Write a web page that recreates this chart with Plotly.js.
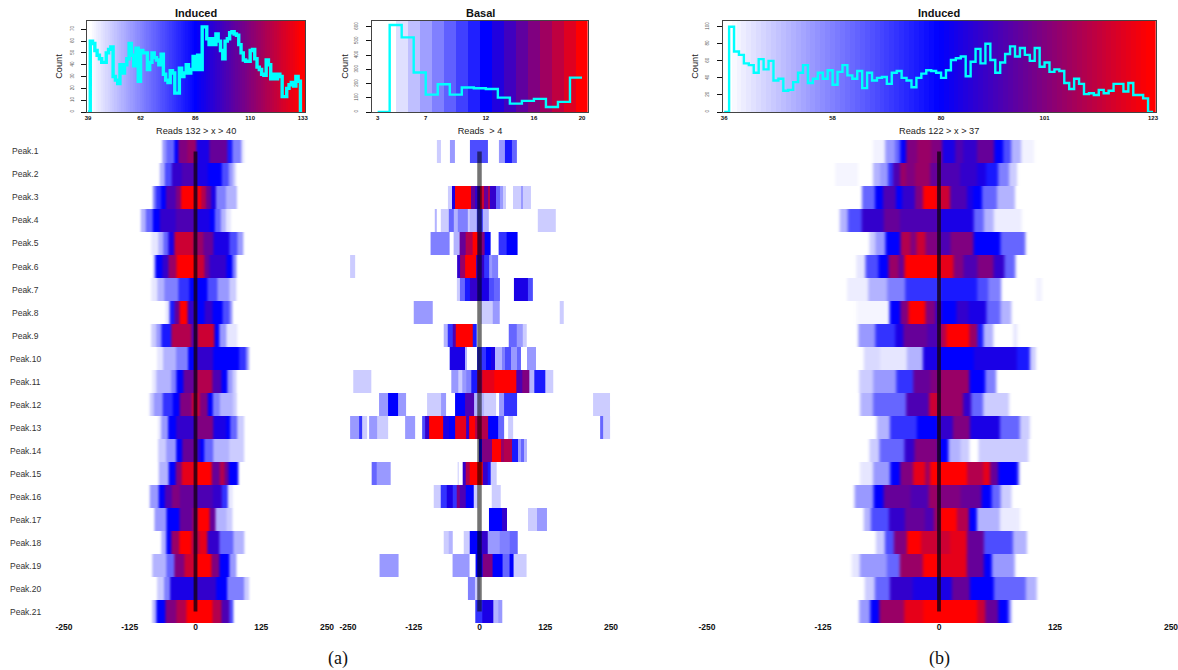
<!DOCTYPE html>
<html>
<head>
<meta charset="utf-8">
<script src="https://cdn.plot.ly/plotly-3.0.1.min.js"></script>
<style>
	html, body { margin: 0; padding: 0; background: #fff; overflow: hidden; }
	/* the source is a scaled bitmap, rows bleed sideways a little */
	.x4y4 .heatmaplayer { filter: url(#softA); }
	.x6y6 .heatmaplayer { filter: url(#softC); }
	.x5y5 .heatmaplayer { filter: url(#softB); }
</style>
</head>
<body>
<svg width="0" height="0" style="position:absolute">
	<filter id="softA" x="-5%" y="-5%" width="110%" height="110%" color-interpolation-filters="sRGB"><feGaussianBlur stdDeviation="1.1 0.4"/></filter>
	<filter id="softB" x="-5%" y="-5%" width="110%" height="110%" color-interpolation-filters="sRGB"><feGaussianBlur stdDeviation="0.4 0.4"/></filter>
	<filter id="softC" x="-5%" y="-5%" width="110%" height="110%" color-interpolation-filters="sRGB"><feGaussianBlur stdDeviation="1.8 0.4"/></filter>
</svg>
<div id="chart" style="width:1178px;height:670px;overflow:hidden"></div>
<script>
// histograms ==================================================================
const readsA = [39,40,41,42,43,44,45,46,47,48,49,50,51,52,53,54,55,56,57,58,59,60,61,62,63,64,65,66,67,68,69,70,71,72,73,74,75,76,77,78,79,80,81,82,83,84,85,86,87,88,89,90,91,92,93,94,95,96,97,98,99,100,101,102,103,104,105,106,107,108,109,110,111,112,113,114,115,116,117,118,119,120,121,122,123,124,125,126,127,128,129,130,131,132];
const countsA = [0,60,58,52,48,45,42,42,50,53,55,30,27,24,40,33,40,45,58,48,39,54,26,52,50,50,36,42,50,46,44,40,49,32,27,25,35,33,16,16,37,30,33,40,33,36,47,36,48,36,72,72,62,57,62,57,66,60,52,45,60,62,67,68,66,65,57,50,44,43,43,52,53,45,38,36,32,31,44,40,28,32,28,32,30,13,13,20,23,25,22,30,26,0];

const readsB = [3,4,5,6,7,8,9,10,11,12,13,14,15,16,17,18,19,20];
const countsB = [0,612,525,278,122,195,122,172,167,162,101,59,78,92,35,71,242,242];

const readsC = [36,37,38,39,40,41,42,43,44,45,46,47,48,49,50,51,52,53,54,55,56,57,58,59,60,61,62,63,64,65,66,67,68,69,70,71,72,73,74,75,76,77,78,79,80,81,82,83,84,85,86,87,88,89,90,91,92,93,94,95,96,97,98,99,100,101,102,103,104,105,106,107,108,109,110,111,112,113,114,115,116,117,118,119,120,121,122,123];
const countsC = [0,100,71,67,57,55,46,62,50,60,37,39,25,26,35,46,55,34,39,46,39,49,32,47,55,43,39,48,28,46,37,40,41,33,46,48,40,37,29,40,45,49,48,46,40,49,61,63,65,42,59,74,57,80,61,46,58,68,77,65,75,67,60,75,53,58,47,50,48,34,27,39,33,21,22,20,26,22,25,33,33,24,34,20,20,16,0,0];

const ticksA = [39, 62, 86, 110, 133];
const ticksB = [3, 7, 12, 16, 20];
const ticksC = [36, 58, 80, 101, 123];
const countTicksA = [0, 10, 20, 30, 40, 50, 60, 70];
const countTicksB = [0, 100, 200, 300, 400, 500, 600];
const countTicksC = [0, 20, 40, 60, 80, 100];

// heatmap rows ================================================================
// each row: edge, level, edge, level, ... edge. position in bp, level 0 white, 10 blue, 20 red
const peakNames = ["Peak.1","Peak.2","Peak.3","Peak.4","Peak.5","Peak.6","Peak.7","Peak.8","Peak.9","Peak.10","Peak.11","Peak.12","Peak.13","Peak.14","Peak.15","Peak.16","Peak.17","Peak.18","Peak.19","Peak.20","Peak.21"];
const positionTicks = [-250, -125, 0, 125, 250];

const rowsA = [
	[-63,4,-56,6,-40,10,-32,15,-15,16,1,11,27,14,60,9,71,5,87,1,93],
	[-68,3,-59,7,-46,12,-27,13,1,11,23,10,49,7,64,4,71,2,77],
	[-81,5,-75,8,-66,10,-56,13,-37,15,-27,20,-2,18,4,20,11,17,20,14,30,11,39,5,58,3,79],
	[-104,3,-94,6,-81,10,-68,12,-37,13,1,11,27,10,36,6,49,3,58,1,68],
	[-84,1,-71,3,-62,6,-52,11,-40,18,-5,16,14,14,33,11,64,7,80,4,90],
	[-80,3,-76,10,-62,12,-52,16,-37,20,1,18,17,14,27,12,58,10,71,5,78],
	[-84,1,-73,3,-59,5,-33,8,-11,10,23,7,42,4,64,2,77],
	[-57,1,-49,9,-40,14,-30,20,-15,12,1,10,17,12,33,10,52,7,64,4,71],
	[-84,2,-75,4,-65,9,-46,17,-8,13,4,18,36,10,46,4,58,1,80],
	[-73,1,-62,3,-37,5,-15,10,1,12,33,10,83,8,96,4,101],
	[-82,1,-75,3,-46,5,-37,10,-24,14,1,17,33,13,49,10,61,4,71,2,77],
	[-87,2,-80,4,-62,8,-43,10,-30,15,-8,18,8,15,23,10,33,5,46,3,71,2,78],
	[-71,1,-65,4,-52,10,-37,12,1,15,33,11,58,10,65,6,80,2,93],
	[-71,2,-56,4,-37,10,-25,14,1,12,8,10,17,6,33,3,64,2,93],
	[-70,3,-51,10,-37,15,-27,19,1,20,30,14,46,17,55,14,64,10,80,6,83],
	[-87,4,-70,10,-59,13,-46,15,-30,14,1,13,33,12,49,8,61,1,71],
	[-78,4,-56,10,-30,14,-5,16,4,20,27,14,38,3,58,2,71],
	[-65,3,-56,10,-46,16,-30,20,-8,17,8,19,23,12,46,6,71,3,93],
	[-82,3,-56,6,-40,15,-21,18,1,20,30,15,46,10,64,4,77],
	[-73,2,-59,5,-49,11,1,12,39,10,61,5,93,2,101],
	[-82,3,-75,10,-57,15,-37,17,-18,20,33,17,49,13,64,7,72],
];

const rowsB = [
	[-81,2,-74,0,-56,4,-46,0,-19,7,16,0,37,4,49,9,61,6,71],
	[],
	[-60,2,-53,11,-47,20,-16,14,-9,12,0,18,9,14,16,17,20,12,32,6,38,4,44,2,51,0,63,2,79,4,83,2,98],
	[-85,3,-82,0,-73,2,-58,6,-49,3,-41,5,-22,2,-18,3,-6,8,6,3,18,0,111,2,145],
	[-93,5,-57,0,-49,3,-38,14,-27,17,-13,20,-3,15,9,10,22,0,37,8,52,10,73],
	[-246,2,-237,0,-43,12,-37,16,-28,20,-6,12,9,8,19,4,24,5,35],
	[-43,2,-37,6,-27,9,-18,12,-3,11,18,7,28,6,38,0,65,11,92,7,101],
	[-125,4,-88,0,3,2,25,4,38,0,152,2,161],
	[-68,3,-61,8,-51,13,-46,20,-13,9,-5,0,55,6,71,4,82,2,90],
	[-58,3,-56,11,-27,3,-23,0,-5,8,13,10,22,11,30,3,42,5,49,7,60,4,71,6,79,0,90,4,107],
	[-240,2,-205,0,-54,4,-41,2,-33,4,-25,5,-16,9,-5,16,6,19,28,20,70,13,82,15,95,3,104,9,125,2,140],
	[-191,4,-173,10,-155,4,-139,0,-100,2,-73,4,-64,0,-47,10,-28,13,-11,3,8,2,32,0,38,4,47,8,71,0,216,2,248],
	[-246,4,-229,8,-224,2,-214,0,-209,4,-195,2,-173,0,-142,4,-123,0,-110,7,-104,12,-96,20,-70,11,-57,10,-46,19,-25,12,-19,20,-8,17,16,10,35,6,46,0,54,2,64,0,229,6,235,2,248],
	[-1,10,5,15,24,20,41,16,47,17,62,9,73,4,79,6,84,3,90],
	[-205,6,-196,4,-169,0,-41,2,-39,0,-32,12,-27,17,-18,20,6,12,16,9,22,2,32],
	[-87,2,-73,8,-63,11,-51,8,-44,15,-38,13,-27,10,-11,2,-3,0,23,2,40],
	[18,10,43,12,53,0,92,2,110,4,128],
	[-68,2,-58,3,-51,0,-30,2,-19,10,3,12,16,4,38,5,58,6,73],
	[-190,4,-153,0,-52,4,-18,0,-8,10,6,15,25,10,44,6,57,10,64,2,90],
	[-22,5,-8,2,0],
	[-8,8,6,11,27,3,36,4,43],
];

const rowsC = [
	[-71,0.5,-58,4,-47,6,-42,10,-35,15,-24,16,-8,15,3,11,17,13,26,12,41,14,59,10,69,7,78,3,89,0.5,103],
	[-112,0.4,-87,0,-71,3,-64,4,-55,8,-49,13,-42,16,-35,15,-26,16,-10,14,1,13,23,12,41,11,51,9,64,5,75,2,84],
	[-83,6,-69,10,-60,13,-46,10,-40,12,-26,15,-17,20,-2,18,12,13,30,11,37,10,46,6,62,3,82],
	[-107,3,-98,7,-83,12,-60,14,-42,13,1,11,37,6,48,3,59,0.7,89],
	[-75,2,-69,4,-58,10,-42,17,-31,15,-24,18,-15,15,-1,13,12,15,37,10,66,6,93],
	[-89,1,-79,7,-65,10,-55,16,-44,14,-37,20,-1,19,15,15,26,13,41,15,59,12,71,6,82],
	[-99,0.7,-76,3,-56,5,-37,8,1,9,41,7,53,5,67,0,105,0.5,111],
	[-89,0.4,-53,10,-42,15,-33,20,-15,15,-4,12,3,10,19,12,32,11,51,6,66,3,78],
	[-87,4,-69,8,-47,11,-38,14,-13,13,1,17,8,20,33,16,41,9,48,3,59,0,80,1,84],
	[-81,1.5,-64,1,-35,3,-17,11,1,10,37,11,84,9,98,2,104],
	[-86,2,-71,4,-46,8,-28,14,-10,15,1,16,33,10,50,5,62],
	[-85,3,-71,6,-35,13,-11,18,-1,16,26,12,35,6,48,2,76],
	[-67,3,-53,8,-24,10,-1,12,15,15,33,11,66,6,87,2,98],
	[-75,2,-64,6,-37,12,-26,15,-1,10,10,3,23,2,33,0,42,2,96],
	[-85,1,-71,4,-53,10,-42,15,-28,19,-15,16,-10,20,30,17,48,19,55,14,64,10,84,7,86],
	[-91,4,-71,10,-60,14,-31,13,-11,16,-1,15,23,14,46,10,57,6,66,2,78],
	[-81,3,-74,7,-54,12,-37,14,-15,13,-6,16,1,20,19,17,32,10,41,3,66,0.8,87],
	[-68,2,-58,7,-49,15,-35,20,-19,18,12,19,30,14,48,7,80,3,95],
	[-94,1,-85,4,-56,6,-42,16,-17,20,-1,19,30,14,48,10,57,4,82],
	[-80,2,-69,6,-53,12,-28,11,-1,11,14,14,33,10,59,6,94,3,105],
	[-86,4,-74,10,-64,16,-38,19,-17,20,41,18,50,14,64,10,75,5,78],
];

// styles ======================================================================
const whiteBlueRed = [[0, "#ffffff"], [0.5, "#0000ff"], [1, "#ff0000"]];
const W = 1190, H = 670; // a bit wider than the window so the last 250 label is kept
const sans = "Liberation Sans, Arial, sans-serif";

const xDomain = (left, right) => [left / W, right / W];
const yDomain = (top, bottom) => [1 - bottom / H, 1 - top / H];

var data = [];
var layout = {
	width: W,
	height: H,
	margin: { l: 0, r: 0, t: 0, b: 0 },
	paper_bgcolor: "#fff",
	plot_bgcolor: "#fff",
	showlegend: false,
	annotations: [],
};

// panel top: histogram over a colour strip ------------------------------------
function addHistogram(n, opt) {
	const xa = "xaxis" + (n === 1 ? "" : n);
	const ya = "yaxis" + (n === 1 ? "" : n);
	const x = "x" + (n === 1 ? "" : n);
	const y = "y" + (n === 1 ? "" : n);

	data.push({
		type: "heatmap",
		x: opt.strip,
		y: [0, opt.yMax],
		z: [opt.strip.slice(0, -1).map((v) => v + 0.5)],
		zmin: opt.zmin,
		zmax: opt.zmax,
		colorscale: whiteBlueRed,
		showscale: false,
		hoverinfo: "skip",
		xaxis: x,
		yaxis: y,
	});
	data.push({
		type: "scatter",
		mode: "lines",
		x: opt.reads,
		y: opt.counts,
		line: { color: "#00ffff", width: opt.lineWidth, shape: "hv" },
		cliponaxis: false,
		xaxis: x,
		yaxis: y,
	});

	layout[xa] = {
		domain: xDomain(opt.left, opt.right),
		anchor: y,
		range: opt.xRange,
		tickmode: "array",
		tickvals: opt.ticks,
		ticktext: opt.ticks.map(String),
		ticks: "",
		tickfont: { family: sans, size: 6, weight: 700, color: "#111" },
		showgrid: false,
		zeroline: false,
		showline: true,
		mirror: true,
		linecolor: "#444",
		linewidth: 1,
		title: { text: opt.readsLabel, font: { family: sans, size: 9.2, color: "#222" }, standoff: 7 },
	};
	layout[ya] = {
		domain: yDomain(21, 112),
		anchor: x,
		range: [0, opt.yMax],
		tickmode: "array",
		tickvals: opt.countTicks,
		ticktext: opt.countTicks.map(String),
		ticks: "outside",
		ticklen: 5,
		tickwidth: 1,
		tickcolor: "#111",
		tickangle: -90,
		ticklabelstandoff: 6,
		tickfont: { family: sans, size: 4.5, color: "#555" },
		showgrid: false,
		zeroline: false,
		showline: true,
		mirror: true,
		linecolor: "#444",
		linewidth: 1,
		title: { text: "Count", font: { family: sans, size: 9.2, color: "#222" }, standoff: opt.countGap },
	};
	layout.annotations.push({
		text: "<b>" + opt.title + "</b>",
		xref: "paper",
		yref: "paper",
		x: opt.titleX / W,
		y: 1 - 13.5 / H,
		xanchor: "center",
		yanchor: "middle",
		showarrow: false,
		font: { family: sans, size: 11, color: "#111" },
	});
}

// panel bottom: one heatmap row per peak ---------------------------------------
function addPeaks(n, opt) {
	const x = "x" + n;
	const y = "y" + n;

	opt.rows.forEach((row, i) => {
		if (!row.length) return;
		data.push({
			type: "heatmap",
			x: row.filter((v, k) => k % 2 === 0),
			y: [i - 0.5, i + 0.5],
			z: [row.filter((v, k) => k % 2 === 1)],
			zmin: 0,
			zmax: 20,
			colorscale: whiteBlueRed,
			showscale: false,
			hoverinfo: "skip",
			xaxis: x,
			yaxis: y,
		});
	});
	data.push({
		type: "scatter",
		mode: "lines",
		x: [0, 0],
		y: [0, 20],
		line: { color: opt.centerColor, width: opt.centerWidth },
		hoverinfo: "skip",
		xaxis: x,
		yaxis: y,
	});

	layout["xaxis" + n] = {
		domain: xDomain(opt.left, opt.right),
		anchor: y,
		range: [-250, 250],
		tickmode: "array",
		tickvals: positionTicks,
		ticktext: positionTicks.map(String),
		ticks: "",
		ticklabelstandoff: -3,
		tickfont: { family: sans, size: 8.5, weight: 700, color: "#111" },
		showgrid: false,
		zeroline: false,
		showline: false,
	};
	layout["yaxis" + n] = {
		domain: yDomain(140, 623),
		anchor: x,
		range: [20.5, -0.5],
		showticklabels: false,
		ticks: "",
		showgrid: false,
		zeroline: false,
		showline: false,
	};
}

addHistogram(1, {
	reads: readsA, counts: countsA, strip: [38.5].concat(readsA.map((v) => v + 0.5), [134.5]),
	zmin: 40, zmax: 132, xRange: [38.7, 134], yMax: 77, left: 87.3, right: 305,
	ticks: ticksA, countTicks: countTicksA, lineWidth: 3.4, countGap: 5,
	title: "Induced", titleX: 196, readsLabel: "Reads 132 &gt; x &gt; 40",
});
addHistogram(2, {
	reads: readsB, counts: countsB, strip: [2.5].concat(readsB.map((v) => v + 0.5)),
	zmin: 4, zmax: 20, xRange: [2.53, 20.5], yMax: 640, left: 372, right: 588,
	ticks: ticksB, countTicks: countTicksB, lineWidth: 2.4, countGap: 3,
	title: "Basal", titleX: 480, readsLabel: "Reads\u00a0 &gt; 4",
});
addHistogram(3, {
	reads: readsC, counts: countsC, strip: [35.5].concat(readsC.map((v) => v + 0.5), [124.5]),
	zmin: 37, zmax: 122, xRange: [35.7, 123.55], yMax: 106.7, left: 722.7, right: 1155.7,
	ticks: ticksC, countTicks: countTicksC, lineWidth: 2.4, countGap: 4,
	title: "Induced", titleX: 939, readsLabel: "Reads 122 &gt; x &gt; 37",
});

addPeaks(4, { rows: rowsA, left: 64, right: 327, centerColor: "rgba(20,0,20,0.8)", centerWidth: 3.8 });
addPeaks(5, { rows: rowsB, left: 348, right: 611, centerColor: "rgba(0,0,0,0.55)", centerWidth: 4.5 });
addPeaks(6, { rows: rowsC, left: 707, right: 1171, centerColor: "rgba(20,0,20,0.8)", centerWidth: 3.8 });

peakNames.forEach((name, i) => {
	layout.annotations.push({
		text: name,
		xref: "paper",
		yref: "y4",
		x: 25 / W,
		y: i,
		xanchor: "center",
		yanchor: "middle",
		showarrow: false,
		font: { family: sans, size: 8.5, color: "#333" },
	});
});

["(a)", "(b)"].forEach((text, i) => {
	layout.annotations.push({
		text: text,
		xref: "paper",
		yref: "paper",
		x: [338, 939][i] / W,
		y: 1 - 658 / H,
		xanchor: "center",
		yanchor: "middle",
		showarrow: false,
		font: { family: "Liberation Serif, Times New Roman, serif", size: 18, color: "#111" },
	});
});

Plotly.newPlot("chart", data, layout, { displayModeBar: false, staticPlot: true });
</script>
</body>
</html>
